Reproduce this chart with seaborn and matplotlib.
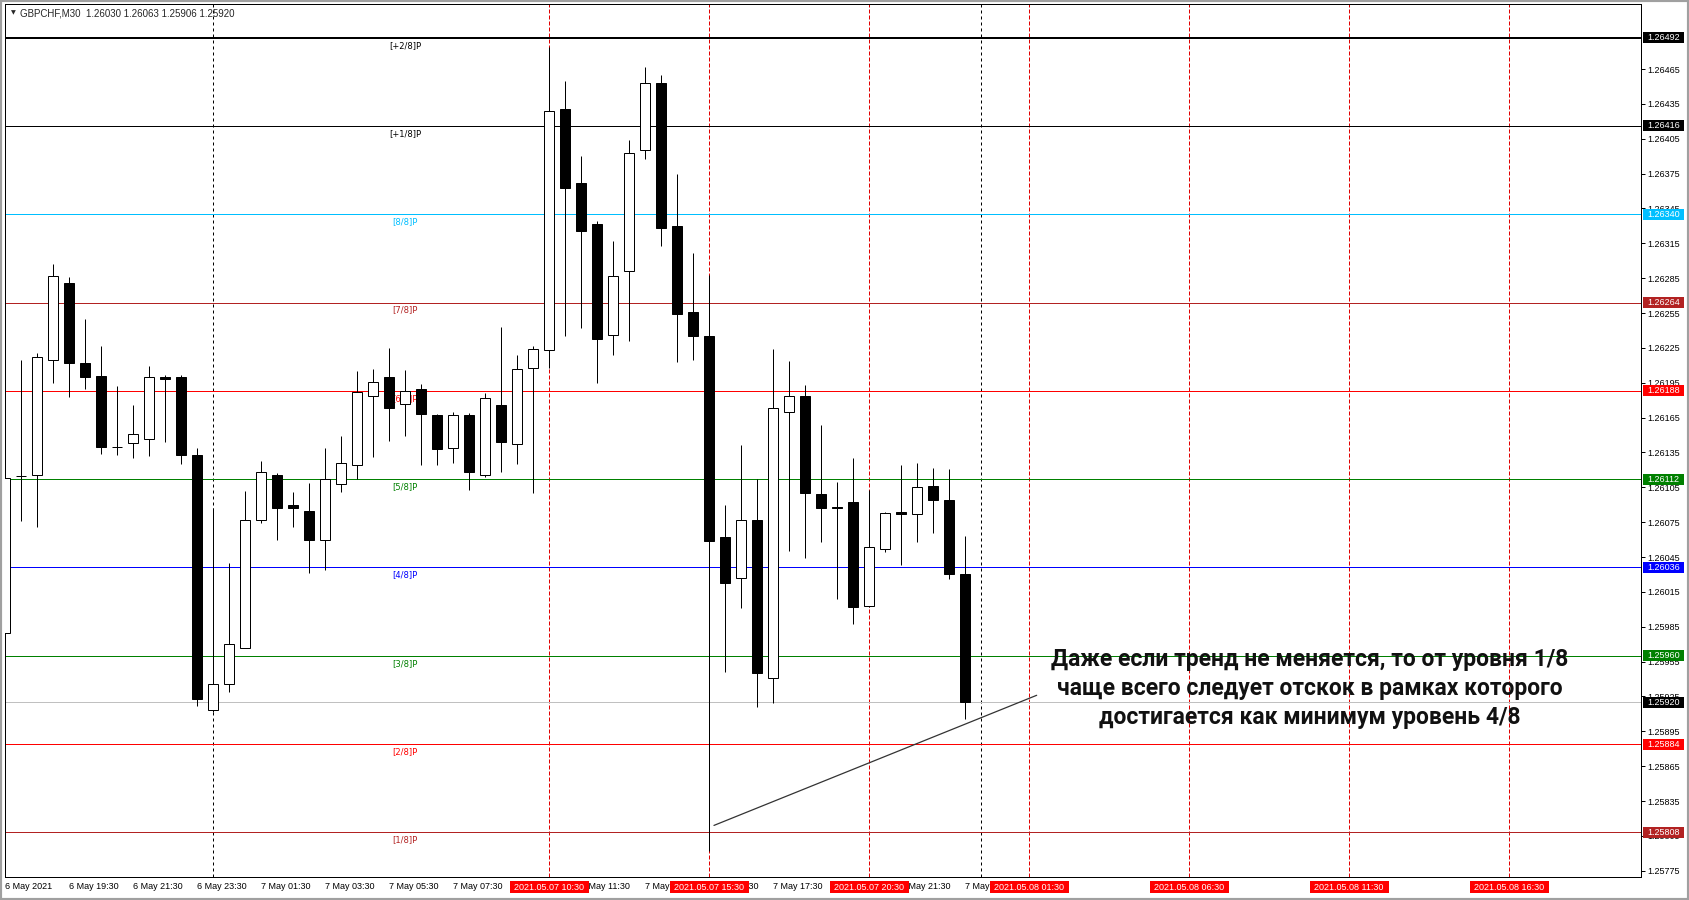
"""
GBPCHF M30 - Murrey Math levels chart (MT4 style) with a note.
"""

import numpy as np
import pandas as pd
import seaborn as sns
import matplotlib.pyplot as plt
from matplotlib.patches import Rectangle

# ─── DATA ────────────────────────────────────────────────────────────────────
# bar position 0 = 7 May 2021 00:00, one step = one M30 bar
bar_pos = list(range(-13, 48))

opens = [1.25980, 1.26115, 1.26116, 1.26215, 1.26281, 1.26212, 1.26201, 1.26140,
         1.26143, 1.26147, 1.26200, 1.26200, 1.26133, 1.25913, 1.25936, 1.25967,
         1.26077, 1.26116, 1.26090, 1.26085, 1.26060, 1.26108, 1.26124, 1.26184,
         1.26200, 1.26177, 1.26190, 1.26167, 1.26139, 1.26167, 1.26116, 1.26176,
         1.26142, 1.26208, 1.26223, 1.26431, 1.26367, 1.26332, 1.26236, 1.26291,
         1.26395, 1.26453, 1.26330, 1.26256, 1.26235, 1.26062, 1.26027, 1.26077,
         1.25941, 1.26170, 1.26184, 1.26099, 1.26088, 1.26092, 1.26003, 1.26052,
         1.26084, 1.26082, 1.26106, 1.26094, 1.26030]
highs = [1.26178, 1.26215, 1.26221, 1.26297, 1.26286, 1.26250, 1.26227, 1.26192,
         1.26176, 1.26209, 1.26202, 1.26202, 1.26139, 1.26087, 1.26040, 1.26102,
         1.26128, 1.26117, 1.26101, 1.26109, 1.26139, 1.26149, 1.26205, 1.26207,
         1.26225, 1.26206, 1.26194, 1.26168, 1.26170, 1.26169, 1.26186, 1.26243,
         1.26219, 1.26227, 1.26484, 1.26455, 1.26390, 1.26334, 1.26317, 1.26404,
         1.26467, 1.26460, 1.26375, 1.26307, 1.26288, 1.26090, 1.26141, 1.26112,
         1.26224, 1.26214, 1.26193, 1.26159, 1.26110, 1.26130, 1.26103, 1.26084,
         1.26124, 1.26126, 1.26122, 1.26121, 1.26063]
lows = [1.25932, 1.26076, 1.26071, 1.26195, 1.26183, 1.26190, 1.26134, 1.26133,
        1.26130, 1.26132, 1.26144, 1.26125, 1.25917, 1.25912, 1.25929, 1.25967,
        1.26074, 1.26060, 1.26071, 1.26031, 1.26034, 1.26101, 1.26112, 1.26131,
        1.26145, 1.26149, 1.26124, 1.26124, 1.26126, 1.26103, 1.26114, 1.26118,
        1.26125, 1.26100, 1.26208, 1.26235, 1.26242, 1.26195, 1.26219, 1.26231,
        1.26388, 1.26313, 1.26213, 1.26215, 1.25792, 1.25946, 1.26001, 1.25916,
        1.25919, 1.26050, 1.26044, 1.26058, 1.26009, 1.25987, 1.26002, 1.26049,
        1.26038, 1.26058, 1.26066, 1.26026, 1.25906]
closes = [1.26113, 1.26115, 1.26217, 1.26287, 1.26212, 1.26200, 1.26140, 1.26140,
          1.26151, 1.26200, 1.26198, 1.26133, 1.25923, 1.25936, 1.25970, 1.26077,
          1.26118, 1.26087, 1.26087, 1.26060, 1.26112, 1.26126, 1.26187, 1.26196,
          1.26173, 1.26188, 1.26168, 1.26138, 1.26167, 1.26118, 1.26182, 1.26144,
          1.26207, 1.26224, 1.26429, 1.26363, 1.26326, 1.26233, 1.26287, 1.26393,
          1.26453, 1.26328, 1.26254, 1.26235, 1.26059, 1.26023, 1.26077, 1.25945,
          1.26173, 1.26184, 1.26100, 1.26087, 1.26087, 1.26002, 1.26054, 1.26083,
          1.26082, 1.26105, 1.26094, 1.26030, 1.25920]

level_names = ["[+2/8]P", "[+1/8]P", "[8/8]P", "[7/8]P", "[6/8]P",
               "[5/8]P", "[4/8]P", "[3/8]P", "[2/8]P", "[1/8]P"]
level_prices = [1.26492, 1.26416, 1.26340, 1.26264, 1.26188,
                1.26112, 1.26036, 1.25960, 1.25884, 1.25808]
level_colors = ["black", "black", "#00BFFF", "#B22222", "#FF0000",
                "#008000", "#0000FF", "#008000", "#FF0000", "#B22222"]
bid_price = 1.25920

price_ticks = [1.25775, 1.25805, 1.25835, 1.25865, 1.25895, 1.25925, 1.25955,
               1.25985, 1.26015, 1.26045, 1.26075, 1.26105, 1.26135, 1.26165,
               1.26195, 1.26225, 1.26255, 1.26285, 1.26315, 1.26345, 1.26375,
               1.26405, 1.26435, 1.26465]

time_tick_pos = [-13, -9, -5, -1, 3, 7, 11, 15, 19, 23, 27, 31, 35, 39, 43, 47]
time_tick_labels = ["6 May 2021", "6 May 19:30", "6 May 21:30", "6 May 23:30",
                    "7 May 01:30", "7 May 03:30", "7 May 05:30", "7 May 07:30",
                    "7 May 09:30", "7 May 11:30", "7 May 13:30", "7 May 15:30",
                    "7 May 17:30", "7 May 19:30", "7 May 21:30", "7 May 23:30"]

day_sep_pos = [0, 48]
shift_pos = [21, 31, 41, 51, 61, 71, 81]
shift_labels = ["2021.05.07 10:30", "2021.05.07 15:30", "2021.05.07 20:30",
                "2021.05.08 01:30", "2021.05.08 06:30", "2021.05.08 11:30",
                "2021.05.08 16:30"]

trend_x = [31.31, 51.48]
trend_y = [1.25814, 1.25926]

note = ("Даже если тренд не меняется, то от уровня 1/8\n"
        "чаще всего следует отскок в рамках которого\n"
        "достигается как минимум уровень 4/8")
header = "GBPCHF,M30  1.26030 1.26063 1.25906 1.25920"

# ─── GEOMETRY (pixels of the 1689x900 picture) ──────────────────────────────
W, H = 1689, 900
AX_L, AX_R, AX_T, AX_B = 5, 1641, 4, 877
AX_W, AX_H = AX_R - AX_L, AX_B - AX_T
PX_PER_BAR = 16.0
PX_PER_PRICE = 116180.0
ONE_PX = 0.72  # points
SMALL = 6.5    # font size of the terminal labels

sns.set_style("white")
plt.rcParams["font.family"] = ["Liberation Sans", "DejaVu Sans"]

fig = plt.figure(figsize=(W / 100, H / 100), dpi=100)
ax = fig.add_axes([AX_L / W, (H - AX_B) / H, AX_W / W, AX_H / H])
ax.set_xlim(-13.0, 89.25)
ax.set_ylim(1.257696, 1.26521)

df = pd.DataFrame({"pos": bar_pos, "open": opens, "high": highs,
                   "low": lows, "close": closes})

# ── vertical separators ─────────────────────────────────────────────────────
for p in day_sep_pos:
    ax.axvline(p, color="black", lw=ONE_PX, ls=(0, (3, 3)), zorder=1)
for p in shift_pos:
    ax.axvline(p, color="#E00000", lw=ONE_PX, ls=(0, (4, 2)), zorder=1)

# ── Murrey levels ───────────────────────────────────────────────────────────
for name, price, col in zip(level_names, level_prices, level_colors):
    lw = 2 * ONE_PX if name == "[+2/8]P" else ONE_PX
    ax.axhline(price, color=col, lw=lw, zorder=1.5)
    ax.text(12, price - 7.5 / PX_PER_PRICE, name, color=col, fontsize=6,
            family="DejaVu Sans", ha="center", va="center", zorder=1.6)
ax.axhline(bid_price, color="#C0C0C0", lw=ONE_PX, zorder=1.5)

# ── candles ─────────────────────────────────────────────────────────────────
ax.vlines(df["pos"], df["low"], df["high"], color="black", lw=ONE_PX, zorder=3)
body_lo = np.minimum(df["open"], df["close"])
body_h = (df["close"] - df["open"]).abs()
fills = np.where(df["close"] < df["open"], "black", "white")
ax.bar(df["pos"], body_h, bottom=body_lo, width=10 / PX_PER_BAR,
       color=fills, edgecolor="black", linewidth=ONE_PX, zorder=4)

# ── trend line ──────────────────────────────────────────────────────────────
sns.lineplot(x=trend_x, y=trend_y, ax=ax, color="#333333", lw=0.9, zorder=5)

# ── note ────────────────────────────────────────────────────────────────────
ax.text(68.56, 1.25932, note, family=["Roboto", "DejaVu Sans"], fontweight="bold",
        fontsize=16.5, ha="center", va="center", multialignment="center",
        linespacing=1.33, color="#111111", zorder=7)

# ── axes / ticks ────────────────────────────────────────────────────────────
for s in ax.spines.values():
    s.set_color("black")
    s.set_linewidth(ONE_PX)

ax.yaxis.tick_right()
ax.set_yticks(price_ticks)
ax.set_yticklabels([f"{v:.5f}" for v in price_ticks])
ax.set_xticks(time_tick_pos)
ax.set_xticklabels(time_tick_labels, ha="left")
ax.tick_params(axis="y", length=2.9, width=ONE_PX, pad=1.6, labelsize=SMALL,
               direction="out", colors="black")
ax.tick_params(axis="x", length=2.2, width=ONE_PX, pad=1.2, labelsize=SMALL,
               direction="out", colors="black")
ax.set_xlabel("")
ax.set_ylabel("")
ax.grid(False)

# price boxes on the right axis
box_items = list(zip(level_prices, level_colors)) + [(bid_price, "black")]
for price, col in box_items:
    ax.add_patch(Rectangle((1 + 2 / AX_W, price - 5.5 / PX_PER_PRICE), 41 / AX_W,
                           11 / PX_PER_PRICE, transform=ax.get_yaxis_transform(),
                           facecolor=col, edgecolor="none", clip_on=False, zorder=8))
    ax.text(1 + 6 / AX_W, price, f"{price:.5f}", transform=ax.get_yaxis_transform(),
            color="white", fontsize=SMALL, ha="left", va="center", clip_on=False,
            zorder=9)

# red time boxes at the bottom
for p, lab in zip(shift_pos, shift_labels):
    ax.add_patch(Rectangle((p - 39.5 / PX_PER_BAR, -16 / AX_H), 79 / PX_PER_BAR,
                           12 / AX_H, transform=ax.get_xaxis_transform(),
                           facecolor="#FF0000", edgecolor="none", clip_on=False,
                           zorder=8))
    ax.text(p, -10 / AX_H, lab, transform=ax.get_xaxis_transform(),
            color="white", fontsize=SMALL, ha="center", va="center", clip_on=False,
            zorder=9)

# header line
ax.text(6 / AX_W, 1 - 9 / AX_H, "\u25BC", transform=ax.transAxes, fontsize=4.5,
        family="DejaVu Sans", ha="left", va="center", zorder=9)
ax.text(15 / AX_W, 1 - 9 / AX_H, header, transform=ax.transAxes, fontsize=7,
        ha="left", va="center", zorder=9)

# window frame
fig.patches.append(Rectangle((0, 0), 1, 1, transform=fig.transFigure, fill=False,
                             edgecolor="#A0A0A0", lw=3))

fig.savefig("out.png", dpi=100, facecolor="white")
plt.close(fig)
